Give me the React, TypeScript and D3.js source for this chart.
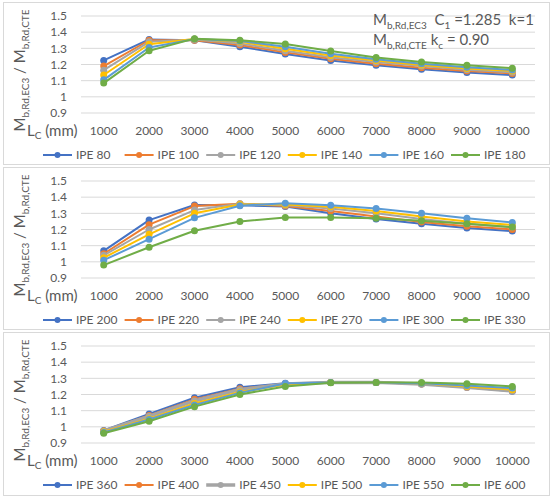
import * as d3 from "d3";
import React from "react";

const lengths = ["1000", "2000", "3000", "4000", "5000", "6000", "7000", "8000", "9000", "10000"];
const yTicks = [0.9, 1.0, 1.1, 1.2, 1.3, 1.4, 1.5];
const colors = ["#4472C4", "#ED7D31", "#A5A5A5", "#FFC000", "#5B9BD5", "#70AD47"];

const names1 = ["IPE 80", "IPE 100", "IPE 120", "IPE 140", "IPE 160", "IPE 180"];
const values1 = [
  [1.225, 1.355, 1.35, 1.31, 1.265, 1.225, 1.195, 1.17, 1.15, 1.135],
  [1.19, 1.35, 1.35, 1.32, 1.275, 1.235, 1.205, 1.18, 1.16, 1.145],
  [1.165, 1.34, 1.355, 1.33, 1.285, 1.245, 1.215, 1.19, 1.168, 1.152],
  [1.135, 1.325, 1.358, 1.34, 1.297, 1.255, 1.225, 1.197, 1.176, 1.16],
  [1.105, 1.305, 1.357, 1.345, 1.31, 1.267, 1.232, 1.205, 1.183, 1.166],
  [1.085, 1.285, 1.36, 1.35, 1.327, 1.284, 1.244, 1.216, 1.195, 1.177],
];

const names2 = ["IPE 200", "IPE 220", "IPE 240", "IPE 270", "IPE 300", "IPE 330"];
const values2 = [
  [1.068, 1.258, 1.352, 1.35, 1.342, 1.3, 1.265, 1.235, 1.21, 1.19],
  [1.05, 1.23, 1.345, 1.36, 1.345, 1.315, 1.28, 1.247, 1.22, 1.2],
  [1.04, 1.2, 1.32, 1.36, 1.35, 1.33, 1.3, 1.265, 1.235, 1.215],
  [1.025, 1.17, 1.3, 1.355, 1.355, 1.34, 1.315, 1.28, 1.25, 1.228],
  [1.01, 1.14, 1.272, 1.347, 1.363, 1.35, 1.33, 1.3, 1.27, 1.244],
  [0.98, 1.09, 1.192, 1.25, 1.274, 1.274, 1.27, 1.254, 1.236, 1.215],
];

const names3 = ["IPE 360", "IPE 400", "IPE 450", "IPE 500", "IPE 550", "IPE 600"];
const values3 = [
  [0.978, 1.08, 1.18, 1.245, 1.27, 1.275, 1.275, 1.265, 1.245, 1.22],
  [0.975, 1.07, 1.17, 1.235, 1.265, 1.275, 1.275, 1.265, 1.245, 1.223],
  [0.975, 1.065, 1.16, 1.23, 1.265, 1.275, 1.275, 1.265, 1.245, 1.222],
  [0.97, 1.05, 1.145, 1.215, 1.262, 1.275, 1.275, 1.27, 1.25, 1.23],
  [0.965, 1.045, 1.135, 1.21, 1.268, 1.275, 1.275, 1.27, 1.255, 1.24],
  [0.96, 1.035, 1.125, 1.2, 1.25, 1.273, 1.275, 1.274, 1.267, 1.25],
];

const panels = [
  { top: 2.5, height: 162, names: names1, values: values1, note: true },
  { top: 167.5, height: 162, names: names2, values: values2, note: false },
  { top: 332.5, height: 163, names: names3, values: values3, note: false },
];

const font = "Lato, 'Open Sans', sans-serif";
const grey = "#595959";
const sp = "\u00A0";

const x = d3.scaleBand<string>().domain(lengths).range([81, 535]);

function Panel({ p }: { p: (typeof panels)[number] }) {
  const y = d3.scaleLinear().domain([0.9, 1.5]).range([p.top + 110.5, p.top + 13.5]);
  const line = d3
    .line<number>()
    .x((_, i) => x(lengths[i])! + x.bandwidth() / 2)
    .y((d) => y(d));
  const cy = p.top + 68;

  return (
    <g>
      <rect x={3.5} y={p.top} width={546} height={p.height} fill="white" stroke="#D9D9D9" />
      {yTicks.map((t) => (
        <g key={t}>
          <line x1={81} x2={535} y1={y(t)} y2={y(t)} stroke="#D9D9D9" strokeWidth={1} />
          <text x={67} y={y(t)} dy="0.35em" textAnchor="end" fontSize={12} fill={grey} fontFamily={font}>
            {d3.format("~g")(t)}
          </text>
        </g>
      ))}
      {lengths.map((l) => (
        <text
          key={l}
          x={x(l)! + x.bandwidth() / 2}
          y={p.top + 132}
          textAnchor="middle"
          fontSize={12}
          fill={grey}
          fontFamily={font}
        >
          {l}
        </text>
      ))}
      <text transform={`translate(25,${cy}) rotate(-90)`} textAnchor="middle" fontSize={15} fill={grey} fontFamily={font}>
        M<tspan fontSize={10} dy={4}>b,Rd,EC3</tspan>
        <tspan dy={-4}>{`${sp}/${sp}M`}</tspan>
        <tspan fontSize={10} dy={4}>b,Rd,CTE</tspan>
      </text>
      <text x={27} y={p.top + 133} fontSize={15} fill={grey} fontFamily={font}>
        L<tspan fontSize={10} dy={3}>C</tspan>
        <tspan dy={-3}>{`${sp}(mm)`}</tspan>
      </text>
      {p.values.map((vals, s) => (
        <g key={s}>
          <path
            d={line(vals)!}
            fill="none"
            stroke={colors[s]}
            strokeWidth={p.names[s] === "IPE 450" ? 3.5 : 2}
            strokeLinejoin="round"
          />
          {vals.map((v, i) => (
            <circle key={i} cx={x(lengths[i])! + x.bandwidth() / 2} cy={y(v)} r={3.5} fill={colors[s]} />
          ))}
        </g>
      ))}
      {p.names.map((n, s) => {
        const lx = 43 + s * 81.6;
        const ly = p.top + 152.5;
        return (
          <g key={n}>
            <line x1={lx} x2={lx + 29} y1={ly} y2={ly} stroke={colors[s]} strokeWidth={n === "IPE 450" ? 3.5 : 2} />
            <circle cx={lx + 14.5} cy={ly} r={3} fill={colors[s]} />
            <text x={lx + 33} y={ly} dy="0.35em" fontSize={12} fill={grey} fontFamily={font}>
              {n}
            </text>
          </g>
        );
      })}
      {p.note && (
        <g fontSize={15} fill={grey} fontFamily={font}>
          <text x={373} y={p.top + 22}>
            M<tspan fontSize={10} dy={4}>b,Rd,EC3</tspan>
            <tspan dy={-4}>{`${sp}${sp}C`}</tspan>
            <tspan fontSize={10} dy={4}>1</tspan>
            <tspan dy={-4}>{`${sp}=1.285${sp}${sp}k=1`}</tspan>
          </text>
          <text x={373} y={p.top + 42}>
            M<tspan fontSize={10} dy={4}>b,Rd,CTE</tspan>
            <tspan dy={-4}>{`${sp}k`}</tspan>
            <tspan fontSize={10} dy={4}>c</tspan>
            <tspan dy={-4}>{`${sp}=${sp}0.90`}</tspan>
          </text>
        </g>
      )}
    </g>
  );
}

export default function App() {
  return (
    <div style={{ position: "absolute", left: 0, top: 0 }}>
      <svg width={554} height={501} style={{ display: "block" }}>
        <rect width={554} height={501} fill="white" />
        {panels.map((p, i) => (
          <Panel key={i} p={p} />
        ))}
      </svg>
    </div>
  );
}
